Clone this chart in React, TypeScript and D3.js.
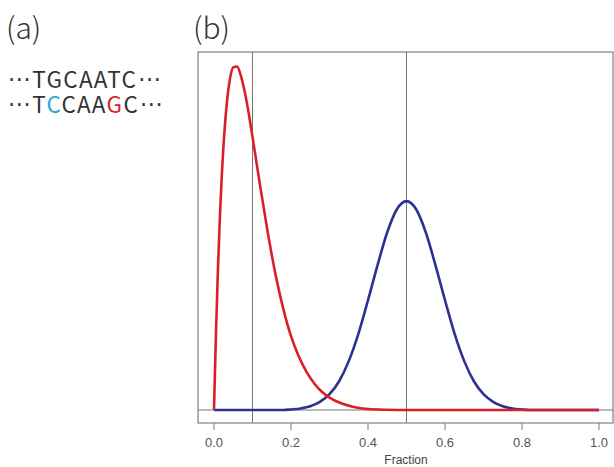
import * as d3 from "d3";

// red curve (low fraction)
const redX = [0, 0.005, 0.01, 0.015, 0.02, 0.03, 0.04, 0.05, 0.06, 0.07, 0.08, 0.09, 0.1, 0.12, 0.14, 0.16, 0.18, 0.2, 0.22, 0.24, 0.26, 0.28, 0.3, 0.33, 0.36, 0.4, 0.45, 0.5, 1.0];
const redY = [0, 1.57, 2.88, 3.97, 4.85, 6.11, 6.84, 7.15, 7.17, 6.97, 6.63, 6.2, 5.7, 4.67, 3.69, 2.82, 2.11, 1.54, 1.12, 0.8, 0.56, 0.38, 0.26, 0.14, 0.07, 0.02, 0.005, 0, 0];

// blue curve (centred on 0.5)
const blueX = [0, 0.18, 0.2, 0.225, 0.25, 0.275, 0.3, 0.325, 0.35, 0.375, 0.4, 0.425, 0.45, 0.475, 0.5, 0.525, 0.55, 0.575, 0.6, 0.625, 0.65, 0.675, 0.7, 0.725, 0.75, 0.775, 0.8, 0.82, 1.0];
const blueY = [0, 0, 0.012, 0.033, 0.077, 0.17, 0.33, 0.6, 1.02, 1.59, 2.29, 3.03, 3.71, 4.19, 4.36, 4.19, 3.71, 3.03, 2.29, 1.59, 1.02, 0.6, 0.33, 0.17, 0.077, 0.033, 0.012, 0, 0];

const xTicks = [0, 0.2, 0.4, 0.6, 0.8, 1.0];
const vLines = [0.1, 0.5];
const seqTop = ["T", "G", "C", "A", "A", "T", "C"];
const seqBottom = ["T", "C", "C", "A", "A", "G", "C"];
const seqColors = ["#333", "#2aa7d6", "#333", "#333", "#333", "#d7202b", "#333"];
const dots = "\u00b7\u00b7\u00b7";

const box = { left: 198, top: 52, right: 613, bottom: 423 };

const x = d3.scaleLinear().domain([0, 1]).range([214, 599]);
const y = d3.scaleLinear().domain([0, 7.2]).range([410, 65]);

const line = d3
  .line<[number, number]>()
  .x((d) => x(d[0]))
  .y((d) => y(d[1]))
  .curve(d3.curveMonotoneX);

const redPath = line(redX.map((v, i) => [v, redY[i]]));
const bluePath = line(blueX.map((v, i) => [v, blueY[i]]));

const seqFont = "'Noto Sans CJK JP', 'Noto Sans', sans-serif";
const dotFont = "'DejaVu Sans', sans-serif";

function Seq({ letters, colors, baseline }: { letters: string[]; colors?: string[]; baseline: number }) {
  return (
    <text x={8} y={baseline} fontSize={22.5} fontFamily={seqFont} fill="#333">
      <tspan fontFamily={dotFont} letterSpacing={0.6}>{dots}</tspan>
      {letters.map((c, i) => (
        <tspan key={i} dx={i === 0 ? 1 : 0} letterSpacing={1.3} fill={colors ? colors[i] : "#333"}>
          {c}
        </tspan>
      ))}
      <tspan dx={1} fontFamily={dotFont} letterSpacing={0.6}>{dots}</tspan>
    </text>
  );
}

export default function App() {
  return (
    <svg
      width={614}
      height={467}
      style={{ position: "absolute", left: 0, top: 0, background: "#fff" }}
    >
      <text x={6} y={39} fontSize={30} fontFamily={seqFont} fontWeight={300} fill="#333">
        (a)
      </text>
      <text x={193} y={39} fontSize={30} fontFamily={seqFont} fontWeight={300} fill="#333">
        (b)
      </text>

      <Seq letters={seqTop} baseline={88} />
      <Seq letters={seqBottom} colors={seqColors} baseline={113} />

      {/* plot box */}
      <rect
        x={box.left}
        y={box.top}
        width={box.right - box.left}
        height={box.bottom - box.top}
        fill="none"
        stroke="#666"
        strokeWidth={1}
      />
      <line x1={box.left} x2={box.right} y1={y(0)} y2={y(0)} stroke="#777" strokeWidth={1} />
      {vLines.map((v) => (
        <line key={v} x1={x(v)} x2={x(v)} y1={box.top} y2={box.bottom} stroke="#777" strokeWidth={1} />
      ))}

      <path d={bluePath!} fill="none" stroke="#2e3192" strokeWidth={2.6} strokeLinejoin="round" />
      <path d={redPath!} fill="none" stroke="#d9202a" strokeWidth={2.6} strokeLinejoin="round" />

      {/* x axis */}
      {xTicks.map((t) => (
        <g key={t}>
          <line x1={x(t)} x2={x(t)} y1={box.bottom} y2={box.bottom + 7} stroke="#777" />
          <text
            x={x(t)}
            y={447}
            textAnchor="middle"
            fontSize={13}
            fontFamily="'Liberation Sans', Arial, sans-serif"
            fill="#555"
          >
            {t.toFixed(1)}
          </text>
        </g>
      ))}
      <text
        x={406}
        y={464}
        textAnchor="middle"
        fontSize={12}
        fontFamily="'Liberation Sans', Arial, sans-serif"
        fill="#444"
      >
        Fraction
      </text>
    </svg>
  );
}
